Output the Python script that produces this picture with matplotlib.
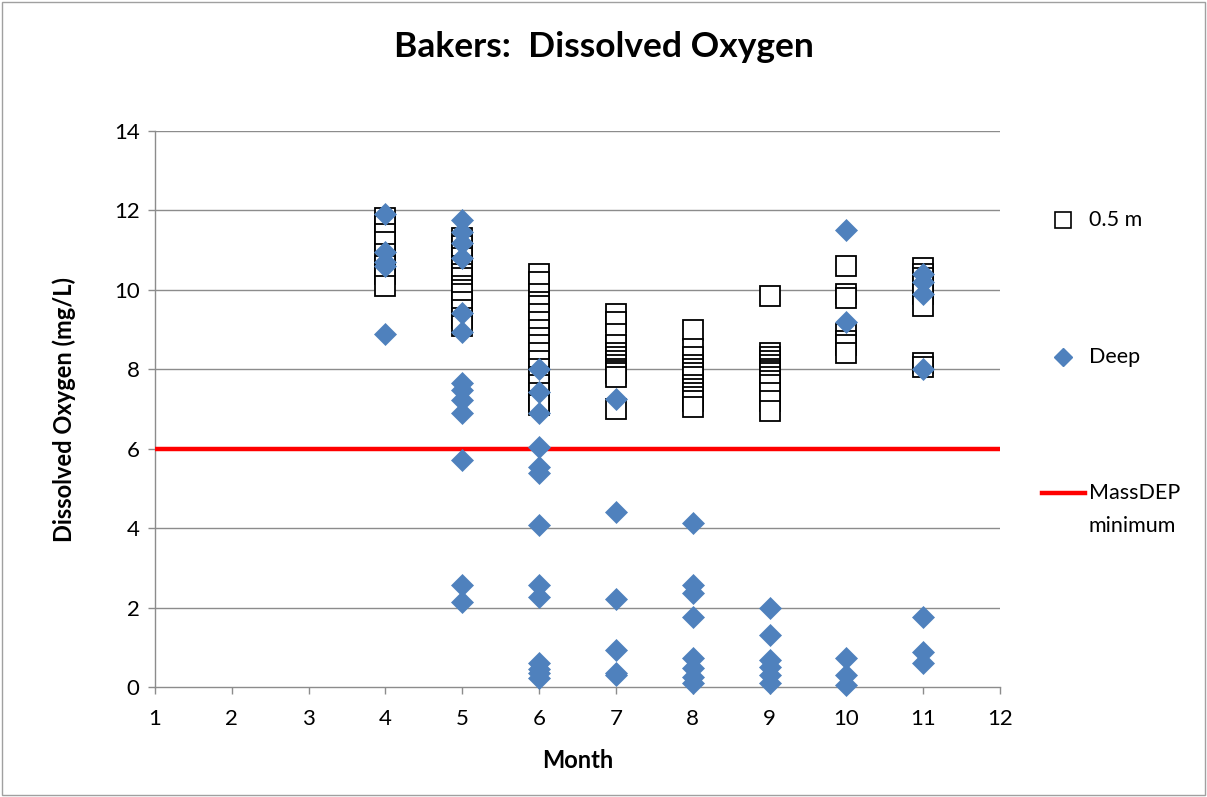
import matplotlib
matplotlib.use("Agg")
import matplotlib.pyplot as plt
from matplotlib.lines import Line2D
from matplotlib.patches import Rectangle

plt.rcParams['font.family'] = ['Lato', 'DejaVu Sans']

# ---- data ----
months_05 = [4]*8 + [5]*14 + [6]*18 + [7]*13 + [8]*13 + [9]*14 + [10]*7 + [11]*8
do_05 = [11.8, 11.6, 11.4, 11.2, 10.9, 10.6, 10.4, 10.1,
         11.3, 11.1, 10.9, 10.8, 10.6, 10.4, 10.3, 10.1, 10.0, 9.9, 9.7, 9.5, 9.3, 9.1,
         10.4, 10.2, 9.9, 9.7, 9.6, 9.4, 9.2, 9.0, 8.8, 8.6, 8.4, 8.2, 8.0, 7.8, 7.6, 7.4, 7.2, 7.1,
         9.4, 9.2, 8.9, 8.6, 8.4, 8.3, 8.2, 8.1, 8.0, 7.95, 7.9, 7.8, 7.0,
         9.0, 8.5, 8.3, 8.1, 8.0, 7.9, 7.8, 7.6, 7.5, 7.4, 7.3, 7.2, 7.05,
         9.85, 8.4, 8.3, 8.2, 8.1, 8.0, 7.95, 7.9, 7.8, 7.7, 7.6, 7.4, 7.2, 6.95,
         10.6, 9.9, 9.8, 8.9, 8.7, 8.6, 8.4,
         10.55, 10.4, 10.3, 10.1, 9.9, 9.6, 8.15, 8.05]

months_deep = ([4]*5 + [5]*13 + [6]*13 + [7]*6 + [8]*8 + [9]*6 + [10]*5 + [11]*7)
do_deep = [11.9, 10.95, 10.7, 10.6, 8.9,
           11.76, 11.46, 11.18, 10.8, 9.42, 8.94, 7.66, 7.48, 7.23, 6.9, 5.72, 2.57, 2.14,
           8.0, 7.43, 6.9, 6.05, 5.55, 5.39, 4.08, 2.57, 2.27, 0.6, 0.45, 0.35, 0.23,
           7.25, 4.41, 2.22, 0.93, 0.35, 0.3,
           4.13, 2.57, 2.37, 1.76, 0.73, 0.48, 0.25, 0.1,
           1.98, 1.31, 0.68, 0.5, 0.3, 0.1,
           11.5, 9.2, 0.73, 0.3, 0.05,
           10.4, 10.2, 9.9, 8.0, 1.76, 0.88, 0.6]

massdep_min = 6.0
x_ticks = list(range(1, 13))
y_ticks = [0, 2, 4, 6, 8, 10, 12, 14]

W, H = 1207, 797
fig = plt.figure(figsize=(W/100, H/100), dpi=100)
ax = fig.add_axes([155/W, 1-687/H, (1000-155)/W, (687-131)/H])

grid_c = '#8c8c8c'
for yv in y_ticks[1:]:
    ax.axhline(yv, color=grid_c, lw=1.0, zorder=0)

ax.plot(months_05, do_05, linestyle='none', marker='s', markersize=15,
        markerfacecolor='white', markeredgecolor='black', markeredgewidth=1.3,
        zorder=2, clip_on=False)
ax.axhline(massdep_min, color='#ff0000', lw=3.2, zorder=3)
ax.plot(months_deep, do_deep, linestyle='none', marker='D', markersize=11.5,
        markerfacecolor='#4F81BD', markeredgecolor='#4F81BD', markeredgewidth=0.5,
        zorder=4, clip_on=False)

ax.set_xlim(1, 12)
ax.set_ylim(0, 14)
ax.set_xticks(x_ticks)
ax.set_yticks(y_ticks)
for s in ['top', 'right']:
    ax.spines[s].set_visible(False)
for s in ['left', 'bottom']:
    ax.spines[s].set_color(grid_c)
    ax.spines[s].set_linewidth(1.0)
ax.tick_params(axis='both', direction='out', length=5, color=grid_c,
               labelsize=16, labelcolor='black', width=1.0)
ax.tick_params(axis='x', pad=11)
ax.tick_params(axis='y', pad=6)

ax.set_xlabel('Month', fontsize=17, fontweight='bold', labelpad=14)
ax.set_ylabel('Dissolved Oxygen (mg/L)', fontsize=17, fontweight='bold', labelpad=27)

fig.text(604/W, 1-47/H, 'Bakers:  Dissolved Oxygen', ha='center', va='center',
         fontsize=25.5, fontweight='bold')

# legend (manual placement, right side)
def fx(px):
    return px / W

def fy(py):
    return 1 - py / H

fig.add_artist(Line2D([fx(1063)], [fy(220)], marker='s', markersize=11,
                      markerfacecolor='white', markeredgecolor='black',
                      markeredgewidth=1.2, transform=fig.transFigure))
fig.text(fx(1089), fy(220), '0.5 m', fontsize=15.5, va='center', ha='left')
fig.add_artist(Line2D([fx(1063)], [fy(357)], marker='D', markersize=9,
                      markerfacecolor='#4F81BD', markeredgecolor='#4F81BD',
                      transform=fig.transFigure))
fig.text(fx(1089), fy(357), 'Deep', fontsize=15.5, va='center', ha='left')
fig.add_artist(Line2D([fx(1042), fx(1085)], [fy(493), fy(493)], color='#ff0000',
                      lw=3.2, transform=fig.transFigure))
fig.text(fx(1089), fy(493), 'MassDEP', fontsize=15.5, va='center', ha='left')
fig.text(fx(1089), fy(526), 'minimum', fontsize=15.5, va='center', ha='left')

# chart border
fig.add_artist(Rectangle((0.0015, 0.002), 0.997, 0.996, transform=fig.transFigure,
                         fill=False, edgecolor='#a0a0a0', lw=1.0))

fig.savefig('out.png', dpi=100)
